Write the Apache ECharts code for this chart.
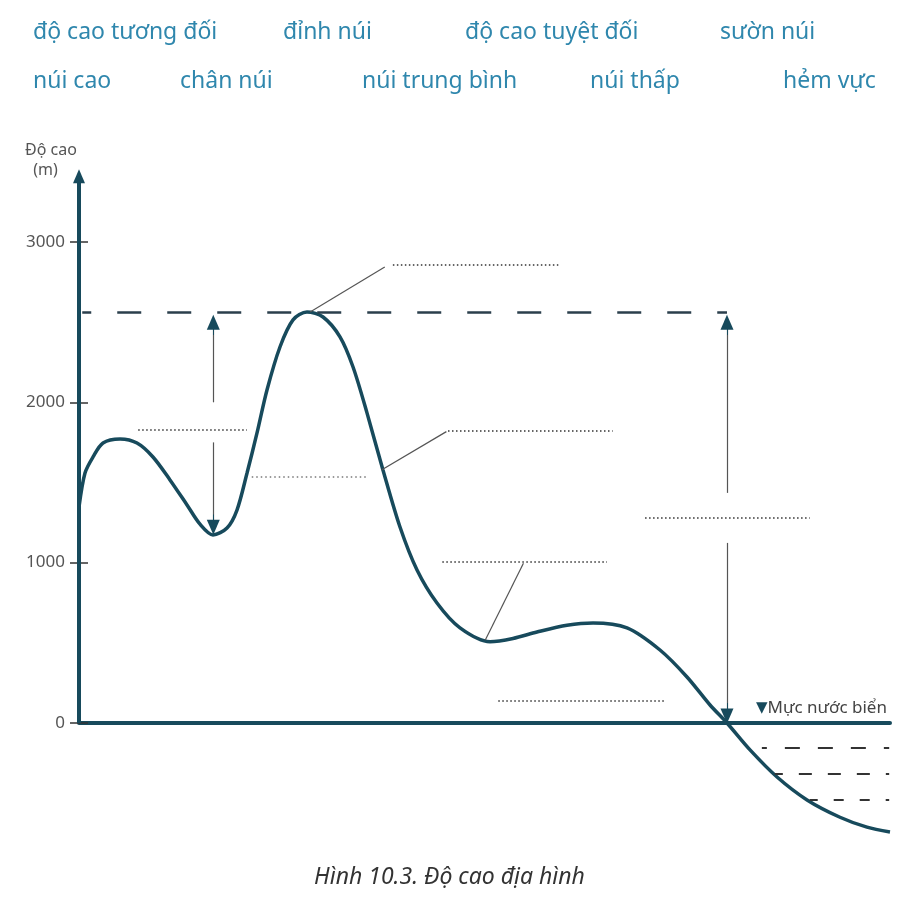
<!DOCTYPE html>
<html>
<head>
<meta charset="utf-8">
<script src="https://cdn.jsdelivr.net/npm/echarts@6/dist/echarts.min.js"></script>
<style>
  html, body { margin: 0; padding: 0; background: #fff; }
  #chart { width: 899px; height: 900px; }
</style>
</head>
<body>
<div id="chart"></div>
<script>
// mặt cắt địa hình: khoảng cách (0-100) và độ cao (m)
var distance = [0, 0.74, 1.73, 2.96, 5.06, 7.15, 9.12, 11.22, 13.32, 14.92, 16.52, 18.25, 19.48, 20.72,
  21.95, 23.18, 24.78, 26.39, 28.11, 30.09, 32.18, 33.79, 35.51, 37.48, 39.58, 41.68, 44.14, 46.98,
  50.68, 53.51, 56.47, 60.17, 63.38, 67.57, 71.64, 74.97, 77.81, 79.9, 82.74, 86.07, 89.77, 93.83, 97.16, 100];
var elevation = [1347, 1559, 1659, 1746, 1771, 1746, 1659, 1516, 1360, 1240, 1173, 1216, 1328, 1559,
  1809, 2077, 2345, 2514, 2563, 2532, 2408, 2220, 1934, 1578, 1222, 954, 748, 593,
  507, 527, 567, 609, 624, 593, 455, 287, 112, 0, -168, -337, -480, -588, -650, -680];
var tickValues = [0, 1000, 2000, 3000];
var peakHeight = 2560;
var wordRow1 = ['độ cao tương đối', 'đỉnh núi', 'độ cao tuyệt đối', 'sườn núi'];
var wordRow2 = ['núi cao', 'chân núi', 'núi trung bình', 'núi thấp', 'hẻm vực'];

var curve = distance.map(function (d, i) { return [d, elevation[i]]; });

var dark = '#174a5c';
var gray = '#555';

// các vị trí chữ trong bảng từ
var row1X = [33, 283, 465, 720];
var row2X = [33, 180, 362, 590, 783];
var words = [];
wordRow1.forEach(function (w, i) {
  words.push({ type: 'text', left: row1X[i], top: 21,
    style: { text: w, fill: '#2f87ad', font: '23px "Noto Sans"' } });
});
wordRow2.forEach(function (w, i) {
  words.push({ type: 'text', left: row2X[i], top: 70,
    style: { text: w, fill: '#2f87ad', font: '23px "Noto Sans"' } });
});

function seg(a, b, style, sym, size) {
  return [
    { coord: a, symbol: sym ? sym[0] : 'none', symbolSize: size, lineStyle: style },
    { coord: b, symbol: sym ? sym[1] : 'none', symbolSize: size }
  ];
}
// đầu mũi tên màu đậm
function head(x, from, to) {
  return seg([x, from], [x, to], { color: dark, width: 1, type: 'solid' }, ['none', 'triangle'], [13, 15]);
}

var thin = { color: gray, width: 1.2, type: 'solid' };
var dotted = { color: '#666', width: 2, type: [1.5, 2.5] };
var sea = { color: '#333', width: 2 };

var chart = echarts.init(document.getElementById('chart'));
var option = {
  animation: false,
  backgroundColor: '#fff',
  grid: { left: 79, right: 9, top: 161.8, bottom: 16.7 },
  xAxis: {
    type: 'value', min: 0, max: 100,
    axisLine: { onZero: true, lineStyle: { color: dark, width: 4 } },
    axisTick: { show: false }, axisLabel: { show: false }, splitLine: { show: false }
  },
  yAxis: [{
    type: 'value', min: -1000, max: 3500, interval: 1000,
    axisLine: { show: false },
    axisTick: { show: true, length: 9, customValues: tickValues, lineStyle: { color: '#333', width: 1.5 } },
    axisLabel: { margin: 14, customValues: tickValues, color: gray, fontFamily: 'Noto Sans', fontSize: 17,
      formatter: function (v) { return String(v); } },
    splitLine: { show: false }
  }, {
    type: 'value', min: -1000, max: 3500, interval: 1000, position: 'left',
    axisLine: { show: false },
    axisTick: { show: true, inside: true, length: 9, customValues: tickValues, lineStyle: { color: '#333', width: 1.5 } },
    axisLabel: { show: false },
    splitLine: { show: false }
  }],
  graphic: words.concat([
    { type: 'text', left: 25, top: 140,
      style: { text: 'Độ cao\n  (m)', fill: gray, font: '16px "Noto Sans"', lineHeight: 20 } },
    { type: 'text', left: 756, top: 700,
      style: { text: '{t|▼}{s|Mực nước biển}', rich: {
        t: { fill: dark, fontSize: 15, fontFamily: 'DejaVu Sans' },
        s: { fill: '#444', fontSize: 17, fontFamily: 'Noto Sans' } } } },
    { type: 'text', left: 'center', top: 866,
      style: { text: 'Hình 10.3. Độ cao địa hình', fill: '#333',
        font: 'italic 23px "Noto Sans"' } }
  ]),
  series: [{
    name: 'địa hình',
    type: 'line',
    data: curve,
    smooth: 0.3,
    showSymbol: false,
    silent: true,
    lineStyle: { color: dark, width: 3.5 }
  }, {
    // trục tung có mũi tên, các mũi tên độ cao, đường dẫn và chỗ trống
    type: 'line',
    data: [],
    silent: true,
    clip: false,
    markLine: {
      silent: true,
      animation: false,
      label: { show: false },
      emphasis: { disabled: true },
      symbol: 'none',
      data: [
        seg([0, 0], [0, 3410], { color: dark, width: 4, type: 'solid' }, ['none', 'triangle'], [12, 14]),
        seg([0.4, peakHeight], [79.9, peakHeight], { color: '#2b3f4c', width: 2.5, type: [24, 26], dashOffset: 15 }),
        // độ cao tương đối
        seg([16.56, 2000], [16.56, 2500], thin),
        seg([16.56, 1750], [16.56, 1220], thin),
        head(16.56, 2420, 2500),
        head(16.56, 1300, 1220),
        // độ cao tuyệt đối
        seg([79.9, 1435], [79.9, 2500], thin),
        seg([79.9, 1123], [79.9, 44], thin),
        head(79.9, 2420, 2500),
        head(79.9, 124, 44),
        // đường dẫn
        seg([28.5, 2563], [37.7, 2844], thin),
        seg([37.3, 1578], [45.3, 1817], thin),
        seg([50.1, 518], [54.8, 996], thin),
        // chỗ trống
        seg([38.7, 2857], [59.1, 2857], dotted),
        seg([45.5, 1821], [65.8, 1821], dotted),
        seg([44.8, 1004], [65.1, 1004], dotted),
        seg([51.7, 137], [72.3, 137], dotted),
        seg([7.3, 1827], [20.7, 1827], dotted),
        seg([21.3, 1534], [35.5, 1534], { color: '#999', width: 2, type: [1.5, 3] }),
        seg([69.8, 1279], [90.1, 1279], dotted),
        // dưới mực nước biển
        seg([84.2, -152], [99.9, -152], Object.assign({ type: [15, 18], dashOffset: 10 }, sea)),
        seg([85.8, -318], [99.9, -318], Object.assign({ type: [13, 16], dashOffset: 5 }, sea)),
        seg([90.1, -480], [99.9, -480], Object.assign({ type: [10, 16], dashOffset: 2 }, sea))
      ]
    }
  }]
};
chart.setOption(option);
</script>
</body>
</html>
